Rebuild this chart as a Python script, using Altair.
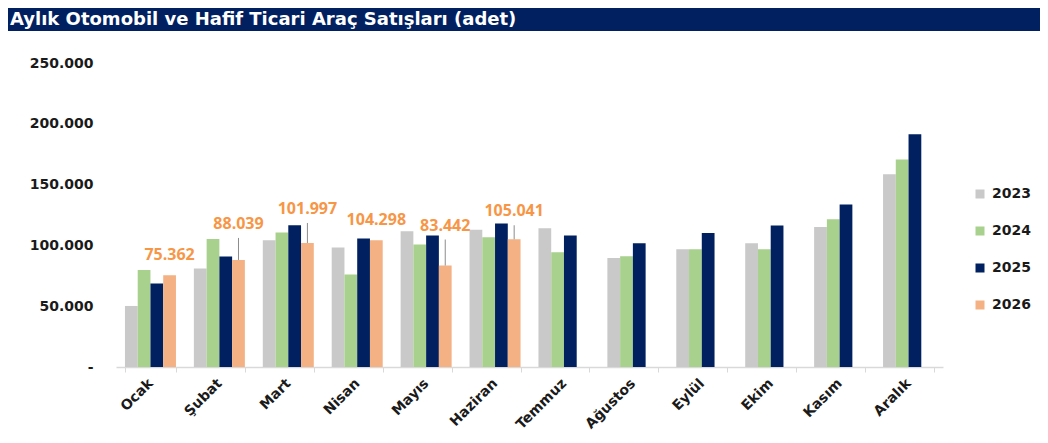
import altair as alt
import pandas as pd

title_text = "Aylık Otomobil ve Hafif Ticari Araç Satışları (adet)"
months = ["Ocak", "Şubat", "Mart", "Nisan", "Mayıs", "Haziran",
          "Temmuz", "Ağustos", "Eylül", "Ekim", "Kasım", "Aralık"]
years = ["2023", "2024", "2025", "2026"]
s2023 = [50200, 81000, 104300, 98200, 111700, 112800, 114200, 89700, 96900, 101800, 115200, 158600]
s2024 = [79800, 105300, 110600, 76000, 100700, 106700, 94400, 91100, 96900, 96900, 121600, 170700]
s2025 = [68600, 90800, 116600, 105600, 108100, 118000, 108100, 101800, 110300, 116400, 133600, 191500]
s2026 = [75362, 88039, 101997, 104298, 83442, 105041]
y_ticks = [0, 50000, 100000, 150000, 200000, 250000]

# styling / annotation offsets (pixels), kept apart from the data
label_lift_px = [0, 16, 14, 0, 20, 8]
colors = ["#C9C9C9", "#A9D18E", "#002060", "#F4B183"]
label_color = "#F79646"

PLOT_W, PLOT_H = 827, 304
K = 250000 / PLOT_H  # data units per pixel

rows = []
for yr, series in zip(years, [s2023, s2024, s2025, s2026]):
    for m, v in zip(months, series):
        rows.append({"month": m, "year": yr, "value": v})
df = pd.DataFrame(rows)

lab_df = pd.DataFrame({
    "month": months[:len(s2026)],
    "year": ["2026"] * len(s2026),
    "value": s2026,
    "lift": label_lift_px,
})

yscale = alt.Scale(domain=[0, 250000], nice=False)
yaxis = alt.Axis(title=None, values=y_ticks, grid=False, domain=False,
                 ticks=False, tickSize=0, labelPadding=23,
                 labelExpr="datum.value == 0 ? '-' : replace(format(datum.value, ','), ',', '.')")
xaxis = alt.Axis(title=None, labelAngle=-45, labelAlign="right",
                 labelBaseline="top", tickBand="extent", tickSize=5,
                 tickColor="#D9D9D9", domainColor="#D9D9D9",
                 domainWidth=1.5, labelPadding=4, labelOffset=-5)
xscale = alt.Scale(paddingInner=0.26, paddingOuter=0.13)
xoff = alt.XOffset("year:N", sort=years, scale=alt.Scale(domain=years))

bars = alt.Chart(df).mark_bar().encode(
    x=alt.X("month:N", sort=months, scale=xscale, axis=xaxis),
    xOffset=xoff,
    y=alt.Y("value:Q", scale=yscale, axis=yaxis),
    color=alt.Color("year:N", sort=years,
                    scale=alt.Scale(domain=years, range=colors),
                    legend=alt.Legend(title=None, orient="none", legendX=857, legendY=124,
                                      symbolType="square", symbolSize=81,
                                      symbolStrokeWidth=0, labelFont="DejaVu Sans",
                                      labelFontWeight="bold", labelFontSize=14,
                                      labelColor="#1a1a1a", rowPadding=23,
                                      labelOffset=5, padding=0)),
)

leaders = alt.Chart(lab_df).transform_filter("datum.lift > 0").transform_calculate(
    top=f"datum.value + (datum.lift + 6) * {K}"
).mark_rule(color="#8C8C8C", strokeWidth=1).encode(
    x=alt.X("month:N", sort=months, scale=xscale, axis=xaxis),
    xOffset=xoff,
    y=alt.Y("value:Q", scale=yscale, axis=yaxis),
    y2="top:Q",
)

labels = alt.Chart(lab_df).transform_calculate(
    ly=f"datum.value + (20 + datum.lift) * {K}",
    txt="replace(format(datum.value, ','), ',', '.')",
).mark_text(font="Open Sans", fontWeight="bold", fontSize=16,
            color=label_color, baseline="middle").encode(
    x=alt.X("month:N", sort=months, scale=xscale, axis=xaxis),
    xOffset=xoff,
    y=alt.Y("ly:Q", scale=yscale, axis=yaxis),
    text="txt:N",
)

title_df = pd.DataFrame({"t": [title_text]})
band = alt.Chart(title_df).mark_rect(color="#002060").encode(
    x=alt.value(-108), x2=alt.value(924), y=alt.value(-55), y2=alt.value(-32)
)
title = alt.Chart(title_df).mark_text(
    align="left", baseline="middle", font="DejaVu Sans", fontWeight="bold",
    fontSize=18, color="white"
).encode(x=alt.value(-106), y=alt.value(-43), text="t:N")

chart = alt.layer(bars, leaders, labels, band, title).properties(
    width=PLOT_W, height=PLOT_H,
    autosize=alt.AutoSizeParams(type="none"),
    padding={"left": 108, "top": 55, "right": 97, "bottom": 68},
).configure_view(stroke=None).configure_axis(
    labelFont="DejaVu Sans", labelFontWeight="bold", labelFontSize=14,
    labelColor="#1a1a1a"
)

chart.save("out.html", embed_options={"renderer": "svg", "actions": False})
